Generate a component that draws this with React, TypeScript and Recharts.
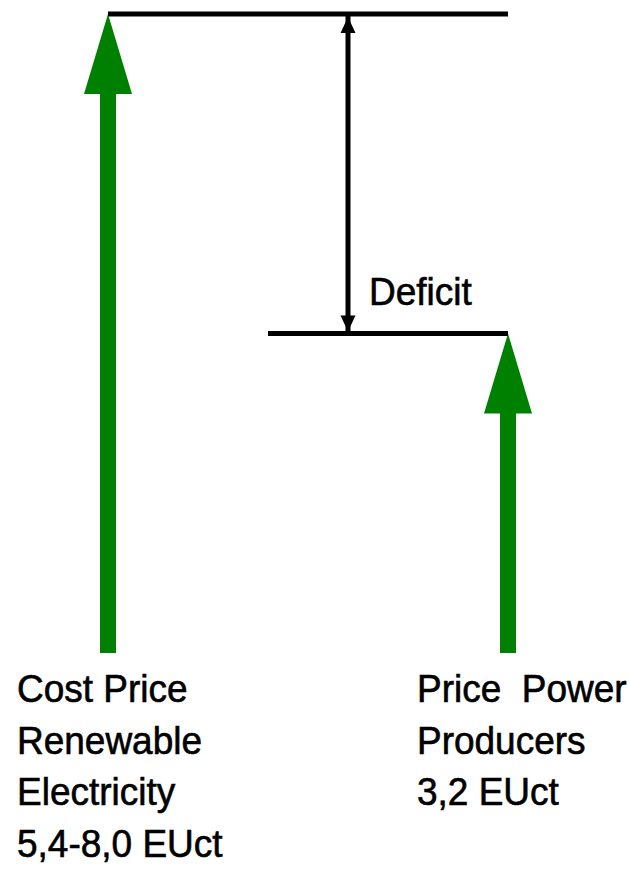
import { ComposedChart, Bar, Scatter, XAxis, YAxis } from 'recharts';

// positions on the horizontal axis (units) and price levels (EUct)
const arrowX = [1, 6];
const arrowValues = [6.4, 3.2];
const costLabel = ['Cost Price', 'Renewable', 'Electricity', '5,4-8,0 EUct'];
const priceLabel = ['Price  Power', 'Producers', '3,2 EUct'];
const deficitX = 4;
const lowLineStart = 3;
const deficitLabel = 'Deficit';

const GREEN = '#008000';
const FONT = '"Liberation Sans", Arial, sans-serif';

const arrows = [
  { x: arrowX[0], y: arrowValues[0], lines: costLabel },
  { x: arrowX[1], y: arrowValues[1], lines: priceLabel },
];
const topLine = [
  { x: arrowX[0], y: arrowValues[0] },
  { x: arrowX[1], y: arrowValues[0] },
];
const lowLine = [
  { x: lowLineStart, y: arrowValues[1] },
  { x: arrowX[1], y: arrowValues[1] },
];
const deficit = [
  { x: deficitX, y: arrowValues[0] },
  { x: deficitX, y: arrowValues[1] },
];

const Caption = ({ x, y, children }: any) => (
  <text
    transform={`translate(${x},${y}) scale(1,1.07)`}
    fontFamily={FONT}
    fontSize={37}
    fill="#000"
    stroke="#000"
    strokeWidth={0.6}
    style={{ whiteSpace: 'pre' }}
  >
    {children}
  </text>
);

const GreenArrow = (props: any) => {
  const { x, y, width, height, payload } = props;
  const cx = x + width / 2;
  const base = y + height;
  const headH = 80;
  const headW = 48;
  const shaft = 16;
  return (
    <g>
      <rect x={cx - shaft / 2} y={y + headH - 1} width={shaft} height={base - y - headH + 1} fill={GREEN} />
      <polygon
        points={`${cx},${y} ${cx - headW / 2},${y + headH} ${cx + headW / 2},${y + headH}`}
        fill={GREEN}
      />
      {payload.lines.map((t: string, i: number) => (
        <Caption key={i} x={cx - 91} y={base + 49 + i * 51.7}>
          {t}
        </Caption>
      ))}
    </g>
  );
};

const DeficitHead = (props: any) => {
  const { cx, cy, index } = props;
  const w = 15;
  const h = 16;
  if (index === 0) {
    const tip = cy + 3;
    return <polygon points={`${cx},${tip} ${cx - w / 2},${tip + h} ${cx + w / 2},${tip + h}`} fill="#000" />;
  }
  const tip = cy - 2;
  return (
    <g>
      <polygon points={`${cx},${tip} ${cx - w / 2},${tip - h} ${cx + w / 2},${tip - h}`} fill="#000" />
      <Caption x={cx + 21} y={cy - 28}>
        {deficitLabel}
      </Caption>
    </g>
  );
};

const NoDot = () => <g />;

export default function App() {
  return (
    <div style={{ position: 'absolute', left: 0, top: 0, background: '#fff' }}>
      <ComposedChart
        width={629}
        height={871}
        data={arrows}
        margin={{ top: 4, right: 41, left: 28, bottom: 218 }}
      >
        <XAxis type="number" dataKey="x" domain={[0, 7]} hide />
        <YAxis type="number" dataKey="y" domain={[0, 6.5]} hide />
        <Bar dataKey="y" barSize={48} shape={<GreenArrow />} isAnimationActive={false} />
        <Scatter
          data={topLine}
          line={{ stroke: '#000', strokeWidth: 5 }}
          shape={<NoDot />}
          isAnimationActive={false}
        />
        <Scatter
          data={lowLine}
          line={{ stroke: '#000', strokeWidth: 5 }}
          shape={<NoDot />}
          isAnimationActive={false}
        />
        <Scatter
          data={deficit}
          line={{ stroke: '#000', strokeWidth: 5 }}
          shape={<DeficitHead />}
          isAnimationActive={false}
        />
      </ComposedChart>
    </div>
  );
}
